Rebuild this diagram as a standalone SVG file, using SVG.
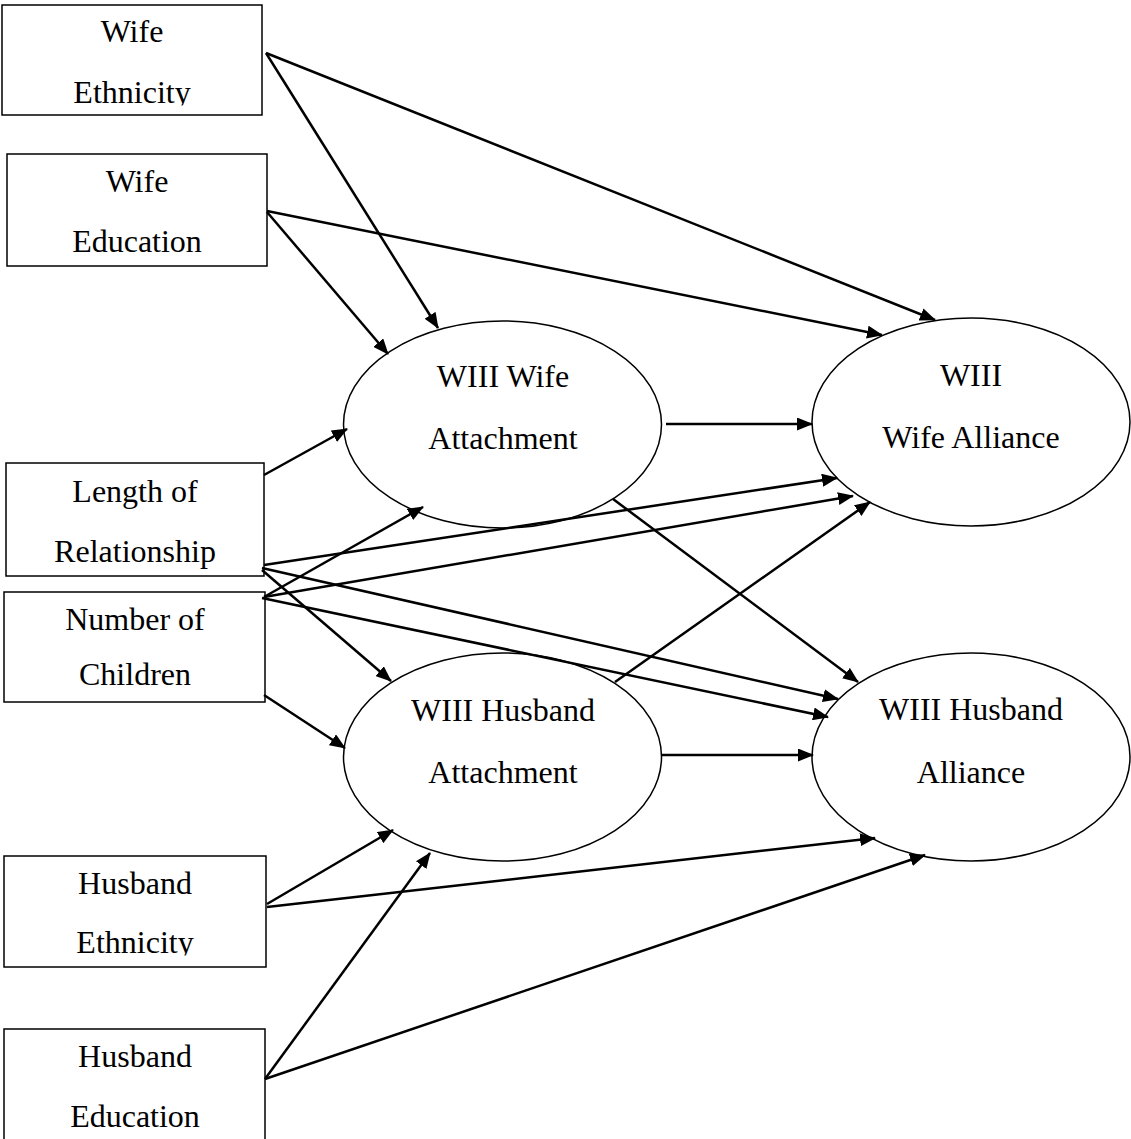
<svg xmlns="http://www.w3.org/2000/svg" width="1131" height="1139" viewBox="0 0 1131 1139">
<style>
.box{fill:#fff;stroke:#000;stroke-width:1.5}
.ell{fill:#fff;stroke:#000;stroke-width:1.5}
.lbl{font-family:"Liberation Serif","Times New Roman",serif;font-size:32px;fill:#000;text-anchor:middle}
.edge{stroke:#000;stroke-width:2.5;fill:none;marker-end:url(#ah)}
</style>
<defs>
<marker id="ah" markerUnits="userSpaceOnUse" viewBox="0 0 16 13" refX="15" refY="6.5" markerWidth="16" markerHeight="13" orient="auto">
<path d="M0,0 L16,6.5 L0,13 Z" fill="#000"/>
</marker>
<clipPath id="c1"><rect x="0" y="0" width="270" height="105.5"/></clipPath>
<clipPath id="c2"><rect x="0" y="850" width="270" height="105.5"/></clipPath>
</defs>
<rect width="1131" height="1139" fill="#fff"/>
<g id="n-wife-ethnicity">
<rect class="box" x="2" y="5" width="260" height="110"/>
<text class="lbl" x="132" y="42">Wife</text>
<text class="lbl" x="132" y="103" clip-path="url(#c1)">Ethnicity</text>
</g>
<g id="n-wife-education">
<rect class="box" x="7" y="154" width="260" height="112"/>
<text class="lbl" x="137" y="192">Wife</text>
<text class="lbl" x="137" y="252">Education</text>
</g>
<g id="n-length">
<rect class="box" x="6" y="463" width="258" height="113"/>
<text class="lbl" x="135" y="502">Length of</text>
<text class="lbl" x="135" y="562">Relationship</text>
</g>
<g id="n-children">
<rect class="box" x="4" y="592" width="261" height="110"/>
<text class="lbl" x="135" y="630">Number of</text>
<text class="lbl" x="135" y="685">Children</text>
</g>
<g id="n-husband-ethnicity">
<rect class="box" x="4" y="856" width="262" height="111"/>
<text class="lbl" x="135" y="894">Husband</text>
<text class="lbl" x="135" y="953" clip-path="url(#c2)">Ethnicity</text>
</g>
<g id="n-husband-education">
<rect class="box" x="4" y="1029" width="261" height="120"/>
<text class="lbl" x="135" y="1067">Husband</text>
<text class="lbl" x="135" y="1127">Education</text>
</g>
<g id="n-wife-attachment">
<ellipse class="ell" cx="502.5" cy="424.5" rx="159" ry="103.5"/>
<text class="lbl" x="503" y="387">WIII Wife</text>
<text class="lbl" x="503" y="449">Attachment</text>
</g>
<g id="n-wife-alliance">
<ellipse class="ell" cx="971" cy="422" rx="159" ry="104"/>
<text class="lbl" x="971" y="386">WIII</text>
<text class="lbl" x="971" y="448">Wife Alliance</text>
</g>
<g id="n-husband-attachment">
<ellipse class="ell" cx="502.5" cy="757" rx="159" ry="104"/>
<text class="lbl" x="503" y="721">WIII Husband</text>
<text class="lbl" x="503" y="783">Attachment</text>
</g>
<g id="n-husband-alliance">
<ellipse class="ell" cx="971" cy="757" rx="159" ry="104"/>
<text class="lbl" x="971" y="720">WIII Husband</text>
<text class="lbl" x="971" y="783">Alliance</text>
</g>
<g id="connectors">
<line class="edge" x1="266" y1="53" x2="438" y2="328"/>
<line class="edge" x1="266" y1="53" x2="935" y2="320"/>
<line class="edge" x1="267" y1="212" x2="388" y2="354"/>
<line class="edge" x1="267" y1="211" x2="882" y2="335"/>
<line class="edge" x1="264" y1="475" x2="347" y2="429"/>
<line class="edge" x1="264" y1="597" x2="423" y2="507"/>
<line class="edge" x1="264" y1="565" x2="837" y2="478"/>
<line class="edge" x1="264" y1="597" x2="853" y2="496"/>
<line class="edge" x1="615" y1="682" x2="870" y2="502"/>
<line class="edge" x1="613" y1="499" x2="858" y2="682"/>
<line class="edge" x1="262" y1="568" x2="838" y2="699"/>
<line class="edge" x1="262" y1="598" x2="828" y2="717"/>
<line class="edge" x1="262" y1="570" x2="391" y2="681"/>
<line class="edge" x1="264" y1="695" x2="345" y2="748"/>
<line class="edge" x1="666" y1="424" x2="812" y2="424"/>
<line class="edge" x1="662" y1="755" x2="813" y2="755"/>
<line class="edge" x1="267" y1="904" x2="393" y2="830"/>
<line class="edge" x1="267" y1="907" x2="875" y2="838"/>
<line class="edge" x1="265" y1="1079" x2="430" y2="853"/>
<line class="edge" x1="265" y1="1079" x2="925" y2="855"/>
</g>
</svg>
